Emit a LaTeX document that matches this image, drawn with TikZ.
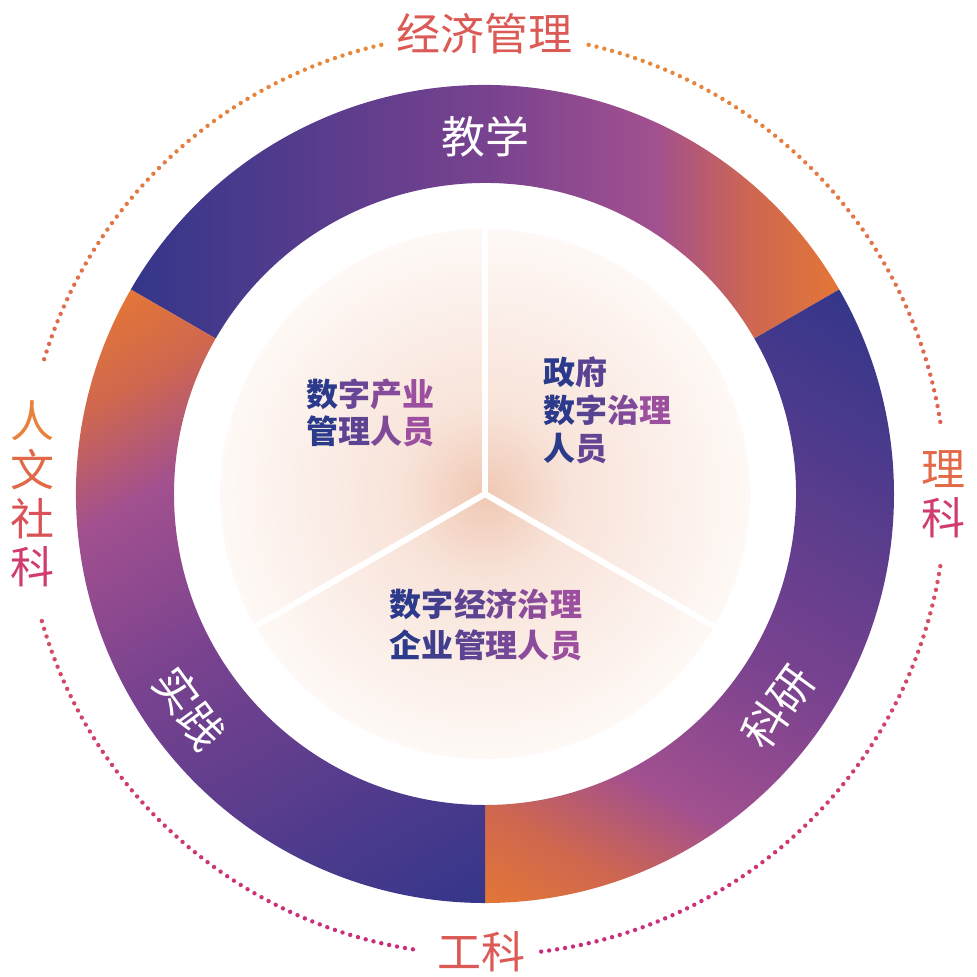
\documentclass[tikz,border=0pt]{standalone}
\usepackage{fontspec}
\newfontfamily\cjk{Noto Sans CJK SC}

\definecolor{ringBlue}{HTML}{34368A}
\definecolor{ringPurple}{HTML}{78428F}
\definecolor{ringPink}{HTML}{A2508F}
\definecolor{ringRed}{HTML}{CF674F}
\definecolor{ringOrange}{HTML}{E47636}
\definecolor{glowA}{HTML}{F0C8B4}
\definecolor{glowB}{HTML}{F8E3D9}
\definecolor{glowC}{HTML}{FEF9F6}
\definecolor{txtNavy}{HTML}{2B3A8A}
\definecolor{txtPurple}{HTML}{9B4F9E}
\definecolor{labMid}{HTML}{DC5A55}
\definecolor{labOrange}{HTML}{E26A48}
\definecolor{labPink}{HTML}{D03C70}
\definecolor{dotOrange}{HTML}{E88A38}
\definecolor{dotPink}{HTML}{C82C7C}

\pgfdeclarehorizontalshading{ringshade}{100bp}{color(0bp)=(ringBlue); color(25bp)=(ringBlue); color(50bp)=(ringPurple); color(62bp)=(ringPink); color(69bp)=(ringRed); color(75bp)=(ringOrange); color(100bp)=(ringOrange)}
\pgfdeclareradialshading{glowshade}{\pgfpoint{0bp}{0bp}}{color(0bp)=(glowA); color(8bp)=(glowB); color(25bp)=(glowC); color(50bp)=(glowC)}

\newcommand\gchar[2]{\textcolor{txtPurple!#1!txtNavy}{#2}}

\tikzset{
  ringtext/.style={text=white, font=\cjk\fontsize{33}{40}\selectfont, inner sep=0pt},
  outertext/.style={font=\cjk\fontsize{33}{36.5}\selectfont, inner sep=0pt, align=center},
  innertext/.style={font=\cjk\bfseries\fontsize{24}{28}\selectfont, inner sep=0pt}
}

\begin{document}
\begin{tikzpicture}[x=0.75pt, y=0.75pt]
\useasboundingbox (-485,-482) rectangle (492,494);

% three ring segments, same shading turned by 120 degrees
\foreach \r in {0,-120,-240}{
  \begin{scope}[transform canvas={rotate=\r}]
    \shade[shading=ringshade] (30:409) arc[start angle=30, end angle=150, radius=409]
      -- (150:311) arc[start angle=150, end angle=30, radius=311] -- cycle;
  \end{scope}
}

% inner glow and dividers
\shade[shading=glowshade] (0,0) circle[radius=265];
\coordinate (mid) at (0,0);
\foreach \a in {90,210,330}{
  \coordinate (rim\a) at (\a:285);
  \draw[white, line width=4.5pt] (mid) -- (rim\a);
}

% dotted outer circle
\foreach \a in {9,...,77,103,104,...,163,196,197,...,261,277,278,...,351}{
  \pgfmathsetmacro\mixp{50+50*sin(\a)}
  \fill[dotOrange!\mixp!dotPink] (\a:461) circle[radius=2.2];
}

\node[ringtext] (teach) at (90:357) {教学};
\node[ringtext, rotate=54] (research) at (-36:362) {科研};
\node[ringtext, rotate=-54] (practice) at (216:365) {实践};

\node[outertext, text=labMid] (econ) at (-1,460) {经济管理};
\node[outertext, text=labMid] (eng) at (-4,-458) {工科};
\node[outertext] (sci) at (458,0) {\textcolor{labOrange}{理}\\\textcolor{labPink}{科}};
\node[outertext] (hum) at (-452,0) {\textcolor[HTML]{E7813C}{人}\\\textcolor[HTML]{E06A48}{文}\\\textcolor[HTML]{D85258}{社}\\\textcolor[HTML]{D03C70}{科}};

\node[innertext, align=center] (industry) at (-114,81)
  {\gchar{0}{数}\gchar{55}{字}\gchar{80}{产}\gchar{100}{业}\\\gchar{0}{管}\gchar{45}{理}\gchar{75}{人}\gchar{100}{员}};
\node[innertext, align=left, anchor=west, font=\cjk\bfseries\fontsize{24}{28.5}\selectfont] (gov) at (58,84)
  {\gchar{0}{政}\gchar{40}{府}\\\gchar{0}{数}\gchar{40}{字}\gchar{75}{治}\gchar{100}{理}\\\gchar{0}{人}\gchar{50}{员}};
\node[innertext, align=left, font=\cjk\bfseries\fontsize{24}{30.75}\selectfont] (corp) at (1,-131)
  {\gchar{0}{数}\gchar{20}{字}\gchar{45}{经}\gchar{65}{济}\gchar{85}{治}\gchar{100}{理}\\\gchar{0}{企}\gchar{20}{业}\gchar{45}{管}\gchar{65}{理}\gchar{85}{人}\gchar{100}{员}};
\end{tikzpicture}
\end{document}
